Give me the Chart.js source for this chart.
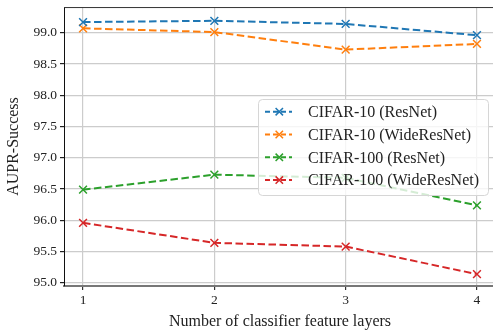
<!DOCTYPE html>
<html>
<head>
<meta charset="utf-8">
<script src="https://cdn.jsdelivr.net/npm/chart.js@4"></script>
<style>
  html, body { margin: 0; padding: 0; background: #fff; overflow: hidden; }
  #wrap { width: 503px; height: 331px; position: relative; }
</style>
</head>
<body>
<div id="wrap"><canvas id="chart"></canvas></div>
<script>
// data
const layers = [1, 2, 3, 4];
const yTicks = [95.0, 95.5, 96.0, 96.5, 97.0, 97.5, 98.0, 98.5, 99.0];
const seriesNames = ['CIFAR-10 (ResNet)', 'CIFAR-10 (WideResNet)', 'CIFAR-100 (ResNet)', 'CIFAR-100 (WideResNet)'];
const c10Res = [99.17, 99.19, 99.14, 98.96];
const c10Wide = [99.07, 99.01, 98.73, 98.82];
const c100Res = [96.49, 96.73, 96.68, 96.24];
const c100Wide = [95.96, 95.64, 95.58, 95.14];
const colors = ['#1f77b4', '#ff7f0e', '#2ca02c', '#d62728'];

const FONT = '"Liberation Serif", "DejaVu Serif", serif';
const allSeries = [c10Res, c10Wide, c100Res, c100Wide];

const datasets = allSeries.map((vals, i) => ({
    label: seriesNames[i],
    data: vals.map((v, j) => ({ x: layers[j], y: v })),
    borderColor: colors[i],
    backgroundColor: colors[i],
    borderWidth: 2,
    borderDash: [7.5, 3.5],
    pointStyle: 'crossRot',
    pointRadius: 5.5,
    pointBorderWidth: 1.5,
    tension: 0,
    fill: false
}));

// legend drawn inside the axes like matplotlib's
const innerLegend = {
    id: 'innerLegend',
    afterDraw(chart) {
        const c = chart.ctx;
        const a = chart.chartArea;
        // top spine
        c.save();
        c.strokeStyle = '#333';
        c.lineWidth = 1;
        c.beginPath();
        c.moveTo(a.left, a.top + 0.5);
        c.lineTo(a.right, a.top + 0.5);
        c.stroke();

        const x0 = 258, y0 = 99, w = 230, h = 96, r = 4;
        c.fillStyle = 'rgba(255,255,255,0.8)';
        c.strokeStyle = '#d6d6d6';
        c.lineWidth = 1;
        c.beginPath();
        c.roundRect(x0 + 0.5, y0 + 0.5, w, h, r);
        c.fill();
        c.stroke();

        c.font = '16px ' + FONT;
        c.textBaseline = 'middle';
        chart.data.datasets.forEach((ds, i) => {
            const y = 111.7 + i * 22.8;
            c.strokeStyle = ds.borderColor;
            c.lineWidth = 2;
            c.setLineDash([5, 3]);
            c.beginPath();
            c.moveTo(265, y);
            c.lineTo(292, y);
            c.stroke();
            c.setLineDash([]);
            c.lineWidth = 1.5;
            const m = 3.7;
            c.beginPath();
            c.moveTo(279.3 - m, y - m); c.lineTo(279.3 + m, y + m);
            c.moveTo(279.3 - m, y + m); c.lineTo(279.3 + m, y - m);
            c.stroke();
            c.fillStyle = '#222';
            c.fillText(ds.label, 308, y + 1);
        });
        c.restore();
    }
};

new Chart(document.getElementById('chart'), {
    type: 'line',
    data: { datasets },
    options: {
        responsive: true,
        maintainAspectRatio: false,
        animation: false,
        layout: { padding: { top: 5, right: 0, left: 0, bottom: 0 } },
        plugins: {
            legend: { display: false },
            tooltip: { enabled: false }
        },
        scales: {
            x: {
                type: 'linear',
                min: 0.855,
                max: 4.145,
                afterBuildTicks: s => { s.ticks = layers.map(v => ({ value: v })); },
                afterFit: s => { s.height = 45; },
                grid: { color: '#cccccc', lineWidth: 1.2, tickColor: '#333', tickLength: 4 },
                border: { color: '#777', width: 2 },
                ticks: { color: '#222', font: { family: FONT, size: 13.5 }, padding: 2, maxRotation: 0,
                         callback: v => String(v) },
                title: { display: true, text: 'Number of classifier feature layers', color: '#222',
                         font: { family: FONT, size: 16 }, padding: { top: 0, bottom: 0 } }
            },
            y: {
                min: 94.95,
                max: 99.41,
                afterBuildTicks: s => { s.ticks = yTicks.map(v => ({ value: v })); },
                afterFit: s => { s.width = 64; },
                grid: { color: '#cccccc', lineWidth: 1.2, tickColor: '#222', tickLength: 4 },
                border: { color: '#111', width: 1 },
                ticks: { color: '#222', font: { family: FONT, size: 13.5, lineHeight: 0.6 }, padding: 3,
                         callback: v => v.toFixed(1) },
                title: { display: true, text: 'AUPR-Success', color: '#222',
                         font: { family: FONT, size: 16 }, padding: { top: 4, bottom: 2 } }
            }
        }
    },
    plugins: [innerLegend]
});
</script>
</body>
</html>
